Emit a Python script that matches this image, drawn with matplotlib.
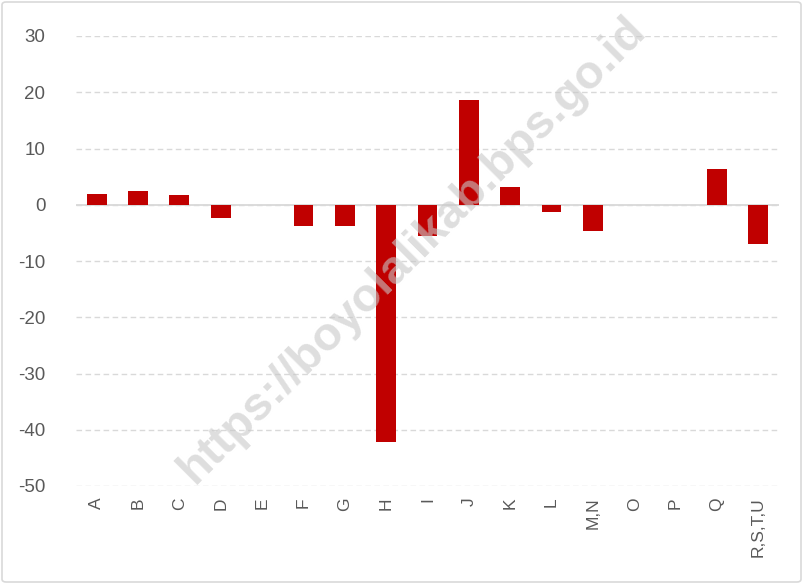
import matplotlib
matplotlib.use("Agg")
import matplotlib.pyplot as plt
from matplotlib.patches import FancyBboxPatch

categories = ["A", "B", "C", "D", "E", "F", "G", "H", "I", "J", "K", "L",
              "M,N", "O", "P", "Q", "R,S,T,U"]
values = [2.0, 2.4, 1.8, -2.3, 0.0, -3.8, -3.8, -42.1, -5.5, 18.6, 3.2, -1.2,
          -4.7, 0.0, -0.1, 6.4, -7.0]
y_ticks = [30, 20, 10, 0, -10, -20, -30, -40, -50]

W, H = 803, 584
fig = plt.figure(figsize=(W / 100, H / 100), dpi=100)
plt.rcParams["font.family"] = ["Liberation Sans", "DejaVu Sans"]

# chart frame
fig.patches.append(FancyBboxPatch((2 / W, 2 / H), (W - 4) / W, (H - 4) / H,
                                  boxstyle="round,pad=0,rounding_size=0.005",
                                  transform=fig.transFigure, fill=False,
                                  edgecolor="#d9d9d9", linewidth=1.2))

left, right, top, bottom = 76, 779, 36, 486
ax = fig.add_axes([left / W, 1 - bottom / H, (right - left) / W, (bottom - top) / H])

x = list(range(len(categories)))
ax.bar(x, values, width=0.48, color="#c00000", zorder=3)

ax.set_xlim(-0.5, len(categories) - 0.5)
ax.set_ylim(-50, 30)
ax.set_yticks(y_ticks)
ax.set_yticklabels([str(v) for v in y_ticks], fontsize=13.5, color="#595959")
ax.set_xticks(x)
ax.set_xticklabels(categories, rotation=90, fontsize=12.5, color="#595959")
ax.tick_params(axis="both", length=0)
ax.tick_params(axis="y", pad=22)
ax.tick_params(axis="x", pad=8)

ax.yaxis.grid(True, color="#d9d9d9", linestyle=(0, (4, 2.5)), linewidth=1.0, zorder=0)
ax.axhline(0, color="#d9d9d9", linewidth=1.3, zorder=2)
for s in ax.spines.values():
    s.set_visible(False)

fig.text(0.514, 0.572, "https://boyolalikab.bps.go.id", rotation=45,
         fontsize=34, fontweight="bold", color="#c8c8c8", alpha=0.6,
         ha="center", va="center", rotation_mode="anchor", zorder=10)

fig.savefig("out.png", dpi=100)
